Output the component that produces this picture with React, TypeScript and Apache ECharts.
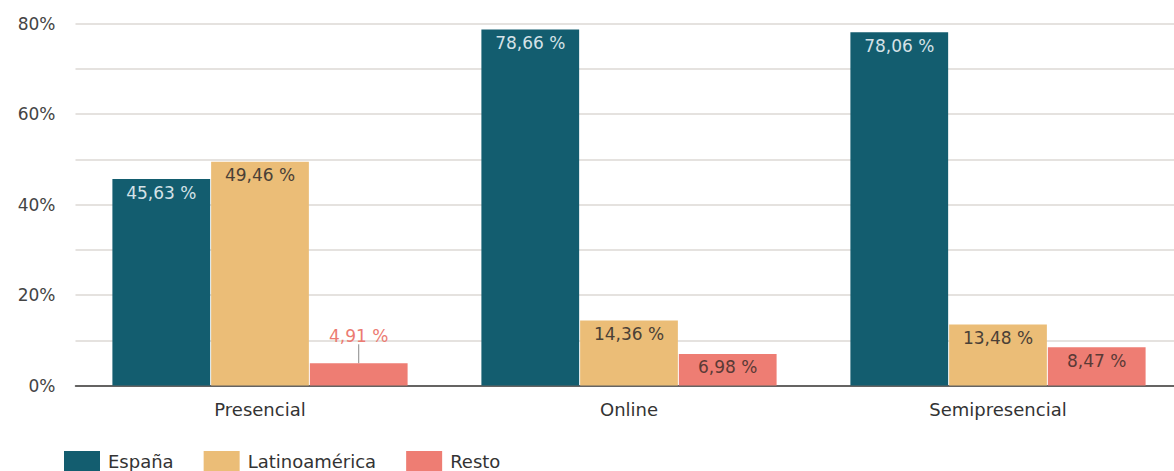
import React, { useEffect, useRef } from "react";
import * as echarts from "echarts";

const categories = ["Presencial", "Online", "Semipresencial"];
const espana = [45.63, 78.66, 78.06];
const latinoamerica = [49.46, 14.36, 13.48];
const resto = [4.91, 6.98, 8.47];
const yTicks = [0, 20, 40, 60, 80];

const FONT = "DejaVu Sans";
const fmt = (v: number) => v.toFixed(2).replace(".", ",") + " %";

export default function App() {
  const ref = useRef<HTMLDivElement>(null);
  useEffect(() => {
    if (!ref.current) return;
    const chart = echarts.init(ref.current, undefined, { renderer: "svg" });
    const baseLabel = {
      show: true,
      position: "insideTop" as const,
      distance: 5,
      fontSize: 17,
      fontFamily: FONT,
      formatter: (p: any) => fmt(p.value),
    };
    chart.setOption({
      animation: false,
      textStyle: { fontFamily: FONT },
      grid: { left: 75.5, top: 23.5, width: 1107, height: 362, containLabel: false },
      legend: {
        left: 64,
        top: 451,
        padding: 0,
        itemWidth: 36,
        itemHeight: 20,
        itemGap: 30,
        icon: "rect",
        textStyle: { fontSize: 18, color: "#333", fontFamily: FONT, padding: [0, 0, 0, 3] },
        data: ["España", "Latinoamérica", "Resto"],
      },
      xAxis: {
        type: "category",
        data: categories,
        axisTick: { show: false },
        axisLine: { lineStyle: { color: "#3a3a3a", width: 1.5 } },
        axisLabel: { fontSize: 18, color: "#333", margin: 15, fontFamily: FONT },
      },
      yAxis: {
        type: "value",
        min: 0,
        max: 80,
        interval: 10,
        axisLine: { show: false },
        axisTick: { show: false },
        axisLabel: {
          fontSize: 17,
          color: "#444",
          margin: 20,
          fontFamily: FONT,
          formatter: (v: number) => (yTicks.includes(v) ? v + "%" : ""),
        },
        splitLine: { lineStyle: { color: "#ddd8d4", width: 1.5 } },
      },
      series: [
        {
          name: "España",
          type: "bar",
          data: espana,
          barGap: "1%",
          barCategoryGap: "20%",
          itemStyle: { color: "#135d6f" },
          label: { ...baseLabel, color: "#d5e2e7" },
        },
        {
          name: "Latinoamérica",
          type: "bar",
          data: latinoamerica,
          itemStyle: { color: "#ebbd77" },
          label: { ...baseLabel, color: "#4a4036" },
        },
        {
          name: "Resto",
          type: "bar",
          data: resto.map((v, i) =>
            i === 0
              ? {
                  value: v,
                  label: { position: "top", distance: 5, color: "#ec7b72" },
                  labelLine: { show: true, lineStyle: { color: "#888", width: 1 } },
                }
              : v
          ),
          itemStyle: { color: "#ee7d73" },
          label: { ...baseLabel, color: "#5a3a36" },
          labelLine: { show: false },
          labelLayout: (p: any) => (p.dataIndex === 0 ? { dy: -14 } : {}),
        },
      ],
    });
    return () => chart.dispose();
  }, []);
  return (
    <div
      style={{
        position: "absolute",
        left: 0,
        top: 0,
        width: 1174,
        height: 471,
        overflow: "hidden",
        background: "#fff",
      }}
    >
      <div ref={ref} style={{ width: 1200, height: 471 }} />
    </div>
  );
}
